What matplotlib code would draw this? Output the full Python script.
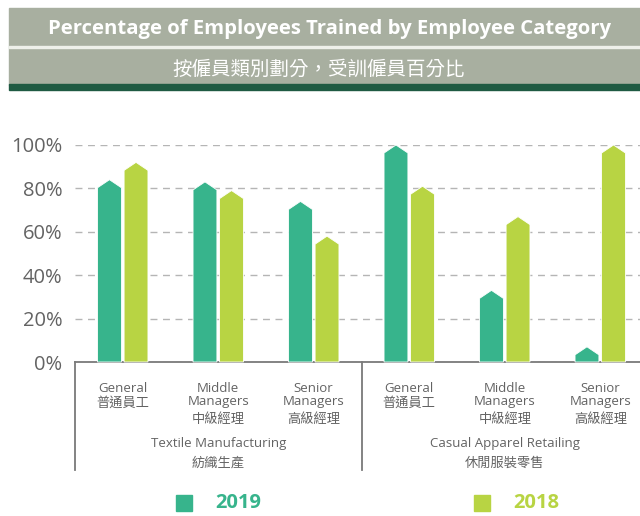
import matplotlib
matplotlib.use('Agg')
import matplotlib.pyplot as plt
from matplotlib.patches import Rectangle
from matplotlib.transforms import blended_transform_factory

FONTS = ['Open Sans', 'Noto Sans CJK TC', 'DejaVu Sans']
plt.rcParams['font.family'] = FONTS

# data
cat_en = ['General', 'Middle\nManagers', 'Senior\nManagers'] * 2
cat_zh = ['普通員工', '中級經理', '高級經理'] * 2
groups_en = ['Textile Manufacturing', 'Casual Apparel Retailing']
groups_zh = ['紡織生產', '休閒服裝零售']
values_2019 = [84, 83, 74, 100, 33, 7]
values_2018 = [92, 79, 58, 81, 67, 100]
yticks = [0, 20, 40, 60, 80, 100]

C2019 = '#37b48c'
C2018 = '#b8d443'
BAND = '#a8afa0'
DARK = '#1f5a42'
GREY = '#636363'

W, H = 640, 516
fig = plt.figure(figsize=(W / 100, H / 100), dpi=100)


def fy(px):
    return 1 - px / H


def fx(px):
    return px / W


# header band
fig.patches.append(Rectangle((fx(9), fy(84.5)), 1, fy(7.5) - fy(84.5),
                             transform=fig.transFigure, color=BAND, zorder=0))
fig.patches.append(Rectangle((fx(9), fy(48.3)), 1, 2 / H,
                             transform=fig.transFigure, color='#eef0ea', zorder=1))
fig.patches.append(Rectangle((fx(9), fy(89.5)), 1, 5 / H,
                             transform=fig.transFigure, color=DARK, zorder=1))
fig.text(fx(329), fy(29), 'Percentage of Employees Trained by Employee Category',
         ha='center', va='center', color='white', fontsize=14.6, fontweight='bold')
fig.text(fx(319), fy(69), '按僱員類別劃分，受訓僱員百分比',
         ha='center', va='center', color='white', fontsize=14,
         family=['Noto Sans CJK TC', 'DejaVu Sans'])

# axes: 6 slots of ~95.5px starting at x=75, 0..100 between y=362 and y=145
ax = fig.add_axes([fx(75), fy(362), 573 / W, 217 / H])
ax.set_xlim(0, 6)
ax.set_ylim(0, 100)

bw = 0.25
off = 0.139
tip = 3.7
for i, (a, b) in enumerate(zip(values_2019, values_2018)):
    for v, c, dx in ((a, C2019, -off), (b, C2018, off)):
        xc = i + 0.5 + dx
        x0, x1 = xc - bw / 2, xc + bw / 2
        ax.fill([x0, x0, xc, x1, x1], [0, v - tip, v, v - tip, 0],
                color=c, ec='white', lw=0.6, clip_on=False, zorder=3)

ax.set_yticks(yticks)
ax.set_yticklabels([f'{t}%' for t in yticks], fontsize=14.5, color=GREY)
ax.tick_params(axis='y', length=0, pad=9)
ax.set_xticks([])
ax.yaxis.grid(True, linestyle=(0, (5, 4)), color='#b5b5b5', lw=1)
ax.set_axisbelow(True)
for s in ('left', 'right', 'top'):
    ax.spines[s].set_visible(False)
ax.spines['bottom'].set_color('#7a7a7a')
ax.spines['bottom'].set_linewidth(1.3)

tr = blended_transform_factory(ax.transData, fig.transFigure)
for x in (0, 3, 6):
    ax.plot([x, x], [fy(362), fy(470)], transform=tr, color='#7a7a7a',
            lw=1.3, clip_on=False)

for i, (en, zh) in enumerate(zip(cat_en, cat_zh)):
    xc = i + 0.5
    lines = en.split('\n')
    if len(lines) == 1:
        ax.text(xc, fy(388), lines[0], transform=tr, ha='center', va='center',
                fontsize=9.5, color=GREY)
        ax.text(xc, fy(403), zh, transform=tr, ha='center', va='center',
                fontsize=9.5, color=GREY)
    else:
        ax.text(xc, fy(388), lines[0], transform=tr, ha='center', va='center',
                fontsize=9.5, color=GREY)
        ax.text(xc, fy(401), lines[1], transform=tr, ha='center', va='center',
                fontsize=9.5, color=GREY)
        ax.text(xc, fy(419), zh, transform=tr, ha='center', va='center',
                fontsize=9.5, color=GREY)

for g, (en, zh) in enumerate(zip(groups_en, groups_zh)):
    xc = g * 3 + 1.5
    ax.text(xc, fy(444), en, transform=tr, ha='center', va='center',
            fontsize=9.5, color=GREY)
    ax.text(xc, fy(463), zh, transform=tr, ha='center', va='center',
            fontsize=9.5, color=GREY)

# legend
for sx, tx, lab, c in ((176, 215, '2019', C2019), (474, 513, '2018', C2018)):
    fig.patches.append(Rectangle((fx(sx), fy(510.5)), 16 / W, 15.5 / H,
                                 transform=fig.transFigure, color=c))
    fig.text(fx(tx), fy(503), lab, ha='left', va='center', color=c,
             fontsize=14.5, fontweight='bold')

fig.savefig('out.png', dpi=100)
